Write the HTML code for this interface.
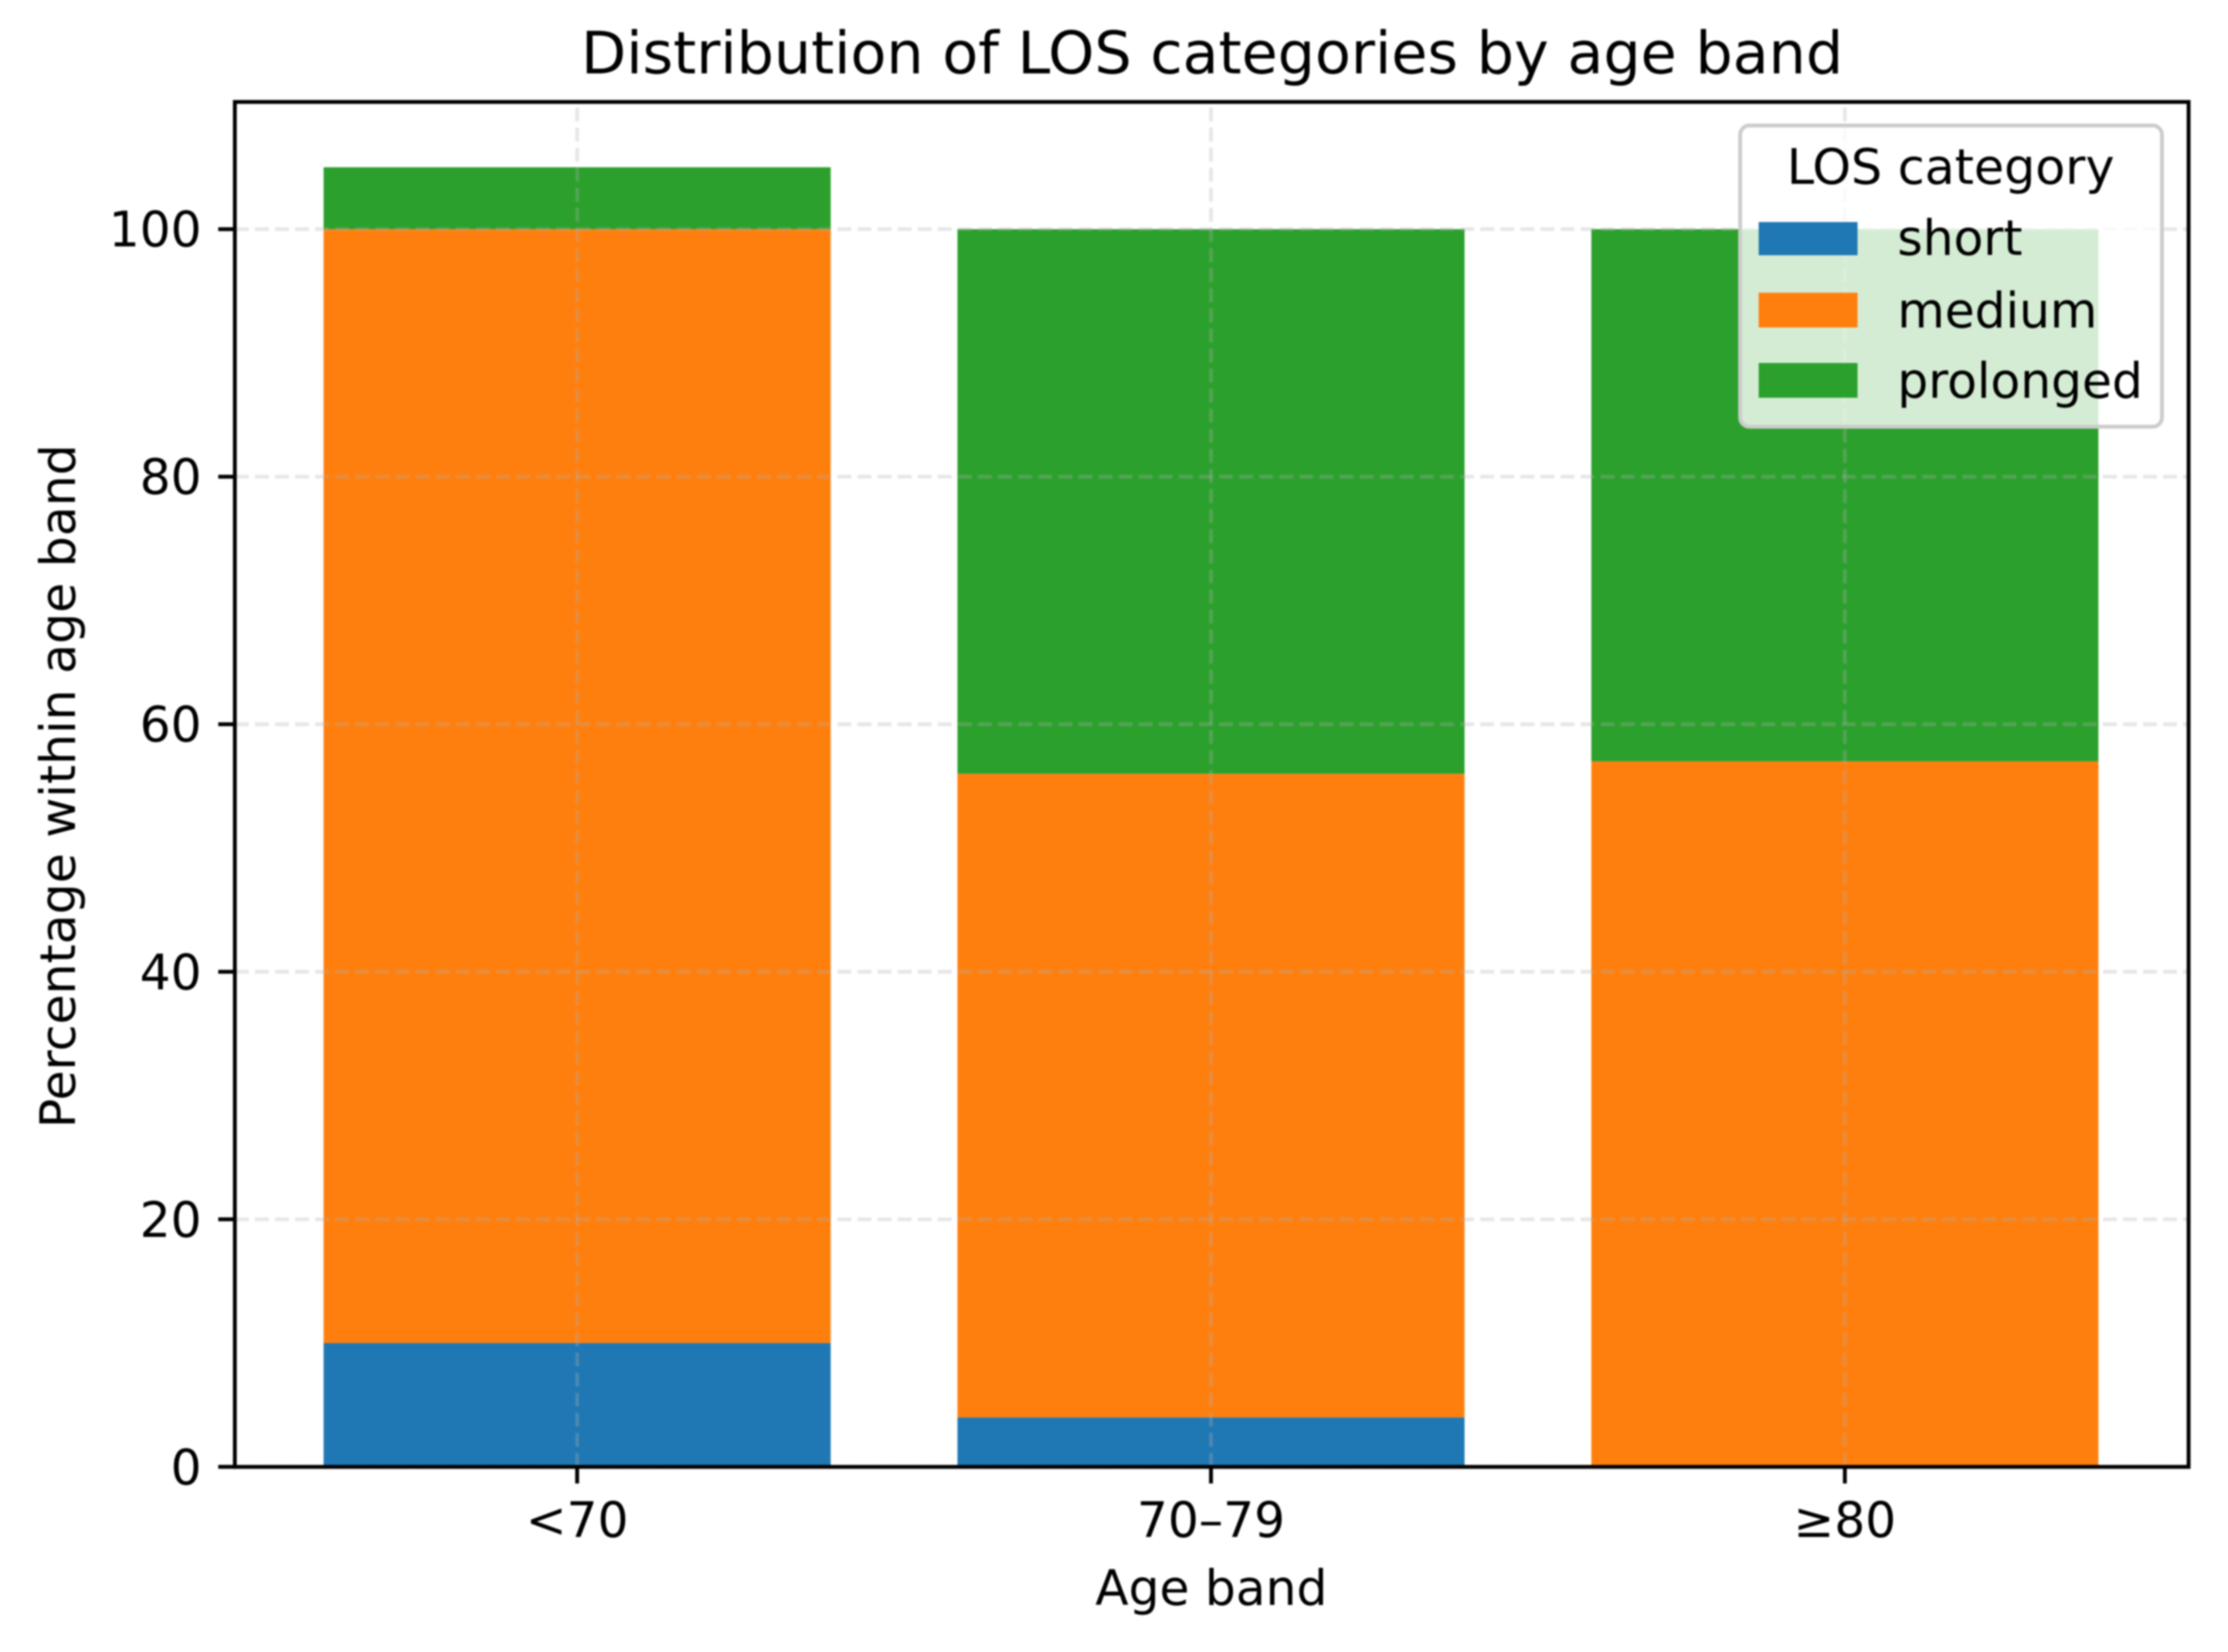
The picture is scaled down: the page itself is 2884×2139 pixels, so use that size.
<!DOCTYPE html>
<html lang="en">
<head>
<meta charset="utf-8">
<title>Distribution of LOS categories by age band</title>
<style>
html,body{margin:0;padding:0;background:#fff;}
body{width:2884px;height:2139px;overflow:hidden;}
svg{display:block;filter:blur(1px);}
text{font-family:"DejaVu Sans","Liberation Sans",sans-serif;fill:#000;}
</style>
</head>
<body>
<svg id="chart" xmlns="http://www.w3.org/2000/svg" width="2884" height="2139" viewBox="0 0 2884 2139">
  <rect x="0" y="0" width="2884" height="2139" fill="#fff"/>
  <g id="bars"></g>
  <g id="grid"></g>
  <g id="ticks"></g>
  <rect x="304" y="132" width="2529" height="1767.3" fill="none" stroke="#000" stroke-width="5"/>
  <text x="1569" y="95" font-size="76" text-anchor="middle">Distribution of LOS categories by age band</text>
  <text x="1568" y="2078" font-size="63" text-anchor="middle">Age band</text>
  <text x="97" y="1018" font-size="63.3" text-anchor="middle" transform="rotate(-90 97 1018)">Percentage within age band</text>
  <g>
    <rect x="2252.5" y="162.5" width="546" height="390" rx="12" ry="12" fill="#fff" fill-opacity="0.8" stroke="#cccccc" stroke-width="5"/>
    <text x="2525" y="238" font-size="63.5" text-anchor="middle">LOS category</text>
    <rect x="2276.5" y="287.5" width="128" height="43" fill="#1f77b4"/>
    <text x="2456" y="330" font-size="63">short</text>
    <rect x="2276.5" y="379" width="128" height="45" fill="#ff7f0e"/>
    <text x="2456" y="424" font-size="63">medium</text>
    <rect x="2276.5" y="470" width="128" height="45" fill="#2ca02c"/>
    <text x="2456" y="515" font-size="63">prolonged</text>
  </g>
</svg>
<script>
const categories = ["<70", "70–79", "≥80"];
const shortValues = [10, 4, 0];
const mediumValues = [90, 52, 57];
const prolongedValues = [5, 44, 43];
const yTickValues = [0, 20, 40, 60, 80, 100];

const NS = "http://www.w3.org/2000/svg";
const plotLeft = 304, plotRight = 2833, plotTop = 132, plotBottom = 1899.3;
const xMin = -0.54, xMax = 2.5423, barWidth = 0.8;
const yMax = (plotBottom - plotTop) / 16.026;

function xScale(v) { return plotLeft + (v - xMin) * (plotRight - plotLeft) / (xMax - xMin); }
function yScale(v) { return plotBottom - v * (plotBottom - plotTop) / yMax; }

const barsGroup = document.getElementById("bars");
const gridGroup = document.getElementById("grid");
const ticksGroup = document.getElementById("ticks");

function drawSegment(catIndex, base, value, color, seriesName) {
  const r = document.createElementNS(NS, "rect");
  r.setAttribute("x", xScale(catIndex - barWidth / 2));
  r.setAttribute("width", xScale(catIndex + barWidth / 2) - xScale(catIndex - barWidth / 2));
  r.setAttribute("y", yScale(base + value));
  r.setAttribute("height", yScale(base) - yScale(base + value));
  r.setAttribute("fill", color);
  
  
  barsGroup.appendChild(r);
}

categories.forEach(function (cat, i) {
  drawSegment(i, 0, shortValues[i], "#1f77b4", "short");
  drawSegment(i, shortValues[i], mediumValues[i], "#ff7f0e", "medium");
  drawSegment(i, shortValues[i] + mediumValues[i], prolongedValues[i], "#2ca02c", "prolonged");
});

function makeLine(parent, x1, y1, x2, y2, stroke, width, opacity, dash) {
  const l = document.createElementNS(NS, "line");
  l.setAttribute("x1", x1);
  l.setAttribute("y1", y1);
  l.setAttribute("x2", x2);
  l.setAttribute("y2", y2);
  l.setAttribute("stroke", stroke);
  l.setAttribute("stroke-width", width);
  if (opacity) l.setAttribute("stroke-opacity", opacity);
  if (dash) l.setAttribute("stroke-dasharray", dash);
  parent.appendChild(l);
  return l;
}

function makeText(parent, x, y, anchor, content) {
  const t = document.createElementNS(NS, "text");
  t.setAttribute("x", x);
  t.setAttribute("y", y);
  t.setAttribute("font-size", "63");
  t.setAttribute("text-anchor", anchor);
  t.textContent = content;
  parent.appendChild(t);
  return t;
}

yTickValues.forEach(function (v) {
  const y = yScale(v);
  const g = makeLine(gridGroup, plotLeft, y, plotRight, y, "#b0b0b0", 4.9, 0.3, "18 8");
  
  
  const tick = makeLine(ticksGroup, plotLeft - 21.5, y, plotLeft, y, "#000", 5);
  
  
  const label = makeText(ticksGroup, 261, y + 22.5, "end", String(v));
  
  
});

categories.forEach(function (cat, i) {
  const x = xScale(i);
  const g = makeLine(gridGroup, x, plotBottom, x, plotTop, "#b0b0b0", 4.9, 0.3, "18 8");
  
  
  const tick = makeLine(ticksGroup, x, plotBottom, x, plotBottom + 21.5, "#000", 5);
  
  
  const label = makeText(ticksGroup, x, 1990, "middle", cat);
  
  
});
</script>
</body>
</html>
